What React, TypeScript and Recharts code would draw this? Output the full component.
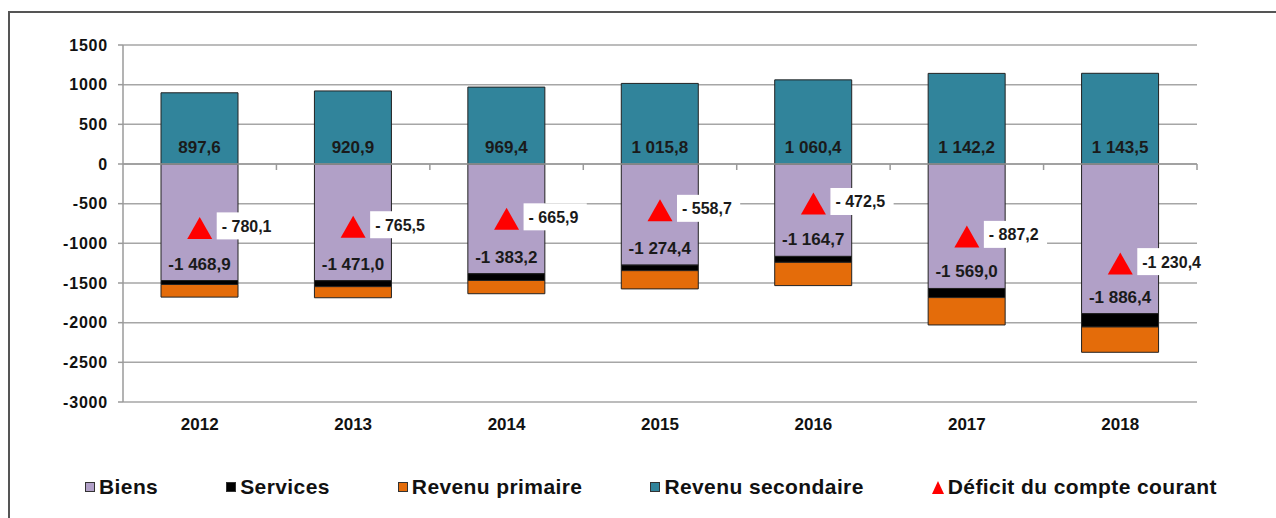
import React from 'react';
import { ComposedChart, Bar, Line, XAxis, YAxis, CartesianGrid, ReferenceLine, LabelList } from 'recharts';

const years = ['2012', '2013', '2014', '2015', '2016', '2017', '2018'];
const biens = [-1468.9, -1471.0, -1383.2, -1274.4, -1164.7, -1569.0, -1886.4];
const services = [-50, -75, -85, -70, -75, -115, -168];
const revenuPrimaire = [-159, -140, -167, -230, -293, -345, -319];
const revenuSecondaire = [897.6, 920.9, 969.4, 1015.8, 1060.4, 1142.2, 1143.5];
const deficit = [-780.1, -765.5, -665.9, -558.7, -472.5, -887.2, -1230.4];
const yTicks = [1500, 1000, 500, 0, -500, -1000, -1500, -2000, -2500, -3000];

const legendItems = [
    { name: 'Biens', color: '#B1A0C7', shape: 'square' },
    { name: 'Services', color: '#000000', shape: 'square' },
    { name: 'Revenu primaire', color: '#E46C0A', shape: 'square' },
    { name: 'Revenu secondaire', color: '#31849B', shape: 'square' },
    { name: 'Déficit du compte courant', color: '#FF0000', shape: 'triangle' },
];

const data = years.map((year, i) => ({
    year,
    biens: biens[i],
    services: services[i],
    revenuPrimaire: revenuPrimaire[i],
    revenuSecondaire: revenuSecondaire[i],
    deficit: deficit[i],
}));

const FONT = '"Liberation Sans", Arial, sans-serif';

function fmt(v: number) {
    const s = Math.abs(v).toFixed(1);
    const [i, d] = s.split('.');
    return i.replace(/\B(?=(\d{3})+(?!\d))/g, ' ') + ',' + d;
}

function barLabel(sign: string) {
    return (props: any) => {
        const { x, y, width, height, value } = props;
        const bottom = Math.max(y, y + height);
        return (
            <text x={x + width / 2} y={bottom - 11} textAnchor="middle" fontFamily={FONT} fontSize={17} fontWeight="bold" fill="#1a1a1a">
                {sign + fmt(value)}
            </text>
        );
    };
}

function DeficitDot(props: any) {
    const { cx, cy } = props;
    if (cx == null || cy == null) return null;
    return <polygon points={`${cx},${cy - 9} ${cx - 12.5},${cy + 13} ${cx + 12.5},${cy + 13}`} fill="#FF0000" />;
}

function DeficitLabel(props: any) {
    const { x, y, value } = props;
    const text = Math.abs(value) < 1000 ? '- ' + fmt(value) : '-' + fmt(value);
    const w = 10 + text.length * 7.6;
    return (
        <g>
            <rect x={x + 17} y={y - 13.5} width={w} height={27} fill="#ffffff" />
            <text x={x + 22} y={y + 6} fontFamily={FONT} fontSize={16} fontWeight="bold" fill="#1a1a1a">
                {text}
            </text>
        </g>
    );
}

function ZeroAxis(props: any) {
    const { x1, x2, y1 } = props;
    const step = (x2 - x1) / years.length;
    return (
        <g stroke="#9a9a9a" strokeWidth={1.5}>
            <line x1={x1} x2={x2} y1={y1} y2={y1} />
            {years.map((_, i) => (
                <line key={i} x1={x1 + step * (i + 1)} x2={x1 + step * (i + 1)} y1={y1} y2={y1 + 6} />
            ))}
        </g>
    );
}

export default function App() {
    return (
        <div style={{ position: 'absolute', left: 0, top: 0, width: 1276, height: 518, background: '#fff', overflow: 'hidden', fontFamily: FONT }}>
            <div style={{ position: 'absolute', left: 8, top: 11, width: 1300, height: 600, border: '2px solid #555' }} />
            <div style={{ position: 'absolute', left: 0, top: 0 }}>
                <ComposedChart width={1276} height={518} data={data} stackOffset="sign" margin={{ top: 45, right: 79, left: 63, bottom: 86 }}>
                    <CartesianGrid vertical={false} stroke="#a6a6a6" strokeWidth={1.5} />
                    <XAxis
                        dataKey="year"
                        height={30}
                        axisLine={false}
                        tickLine={false}
                        tick={{ fill: '#111', fontSize: 17, fontWeight: 'bold', fontFamily: FONT }}
                        dy={8}
                    />
                    <YAxis
                        width={60}
                        domain={[-3000, 1500]}
                        ticks={yTicks}
                        interval={0}
                        axisLine={{ stroke: '#9a9a9a', strokeWidth: 1.5 }}
                        tickLine={{ stroke: '#9a9a9a', strokeWidth: 1.5 }}
                        tickSize={5}
                        tickMargin={10}
                        tick={{ fill: '#111', fontSize: 16, fontWeight: 'bold', fontFamily: FONT, letterSpacing: 0.8 }}
                    />
                    <Bar dataKey="biens" stackId="a" fill="#B1A0C7" stroke="#222" strokeWidth={1} barSize={77} isAnimationActive={false}>
                        <LabelList dataKey="biens" content={barLabel('-')} />
                    </Bar>
                    <Bar dataKey="services" stackId="a" fill="#000000" stroke="#222" strokeWidth={1} barSize={77} isAnimationActive={false} />
                    <Bar dataKey="revenuPrimaire" stackId="a" fill="#E46C0A" stroke="#222" strokeWidth={1} barSize={77} isAnimationActive={false} />
                    <Bar dataKey="revenuSecondaire" stackId="a" fill="#31849B" stroke="#222" strokeWidth={1} barSize={77} isAnimationActive={false}>
                        <LabelList dataKey="revenuSecondaire" content={barLabel('')} />
                    </Bar>
                    <ReferenceLine y={0} shape={<ZeroAxis />} />
                    <Line dataKey="deficit" stroke="none" dot={<DeficitDot />} activeDot={false} isAnimationActive={false}>
                        <LabelList dataKey="deficit" content={<DeficitLabel />} />
                    </Line>
                </ComposedChart>
            </div>
            <div style={{ position: 'absolute', left: 85, top: 475, display: 'flex', gap: 68, alignItems: 'center', fontSize: 21, letterSpacing: 0.4, fontWeight: 'bold', color: '#111' }}>
                {legendItems.map((it) => (
                    <div key={it.name} style={{ display: 'flex', alignItems: 'center', gap: 4 }}>
                        {it.shape === 'square' ? (
                            <span style={{ display: 'inline-block', width: 8, height: 8, background: it.color, border: '1px solid #333' }} />
                        ) : (
                            <svg width={12} height={14}>
                                <polygon points="6,1 0,14 12,14" fill={it.color} />
                            </svg>
                        )}
                        <span>{it.name}</span>
                    </div>
                ))}
            </div>
        </div>
    );
}
